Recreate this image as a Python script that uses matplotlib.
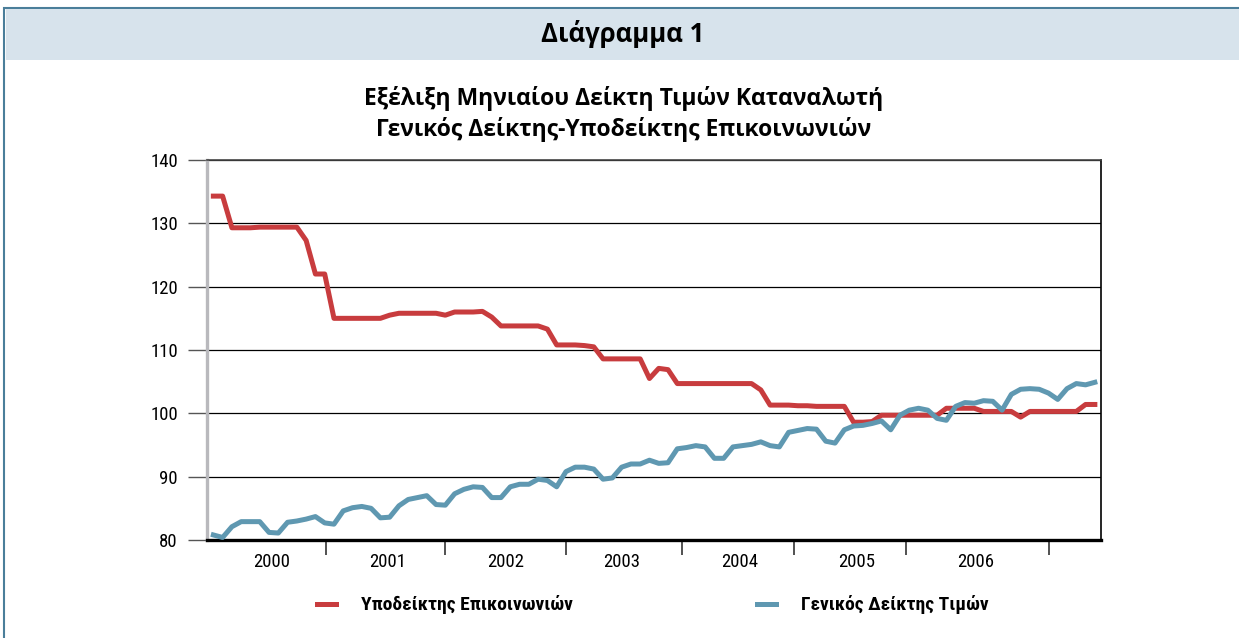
import numpy as np
import matplotlib
matplotlib.use("Agg")
import matplotlib.pyplot as plt
from matplotlib.patches import Rectangle

# monthly index values, Jan 2000 .. Dec 2007
comm_index = [134.3, 134.3, 129.3, 129.3, 129.3, 129.4, 129.4, 129.4, 129.4, 129.4, 127.3, 122.0,
              122.0, 115.0, 115.0, 115.0, 115.0, 115.0, 115.0, 115.5, 115.8, 115.8, 115.8, 115.8,
              115.8, 115.5, 116.0, 116.0, 116.0, 116.1, 115.2, 113.8, 113.8, 113.8, 113.8, 113.8,
              113.3, 110.8, 110.8, 110.8, 110.7, 110.5, 108.6, 108.6, 108.6, 108.6, 108.6, 105.5,
              107.1, 106.9, 104.7, 104.7, 104.7, 104.7, 104.7, 104.7, 104.7, 104.7, 104.7, 103.7,
              101.3, 101.3, 101.3, 101.2, 101.2, 101.1, 101.1, 101.1, 101.1, 98.6, 98.6, 98.7,
              99.7, 99.7, 99.7, 99.7, 99.7, 99.7, 99.7, 100.8, 100.8, 100.8, 100.8, 100.3,
              100.3, 100.3, 100.3, 99.4, 100.3, 100.3, 100.3, 100.3, 100.3, 100.3, 101.4, 101.4]

cpi_general = [80.8, 80.4, 82.1, 82.9, 82.9, 82.9, 81.2, 81.1, 82.8, 83.0, 83.3, 83.7,
               82.7, 82.5, 84.6, 85.1, 85.3, 85.0, 83.5, 83.6, 85.4, 86.4, 86.7, 87.0,
               85.6, 85.5, 87.3, 88.0, 88.4, 88.3, 86.7, 86.7, 88.4, 88.8, 88.8, 89.6,
               89.4, 88.4, 90.8, 91.5, 91.5, 91.2, 89.6, 89.8, 91.5, 92.0, 92.0, 92.6,
               92.1, 92.2, 94.4, 94.6, 94.9, 94.7, 92.9, 92.9, 94.7, 94.9, 95.1, 95.5,
               94.9, 94.7, 97.0, 97.3, 97.6, 97.5, 95.6, 95.3, 97.4, 98.0, 98.1, 98.4,
               98.8, 97.4, 99.7, 100.5, 100.8, 100.5, 99.2, 98.9, 101.1, 101.7, 101.6, 102.0,
               101.9, 100.5, 103.0, 103.8, 103.9, 103.8, 103.2, 102.2, 103.9, 104.7, 104.5, 104.9]

year_labels = ['2000', '2001', '2002', '2003', '2004', '2005', '2006']
# the original axis labels/ticks sit at these (irregular) month positions
year_label_pos = [6.3, 18.8, 31.5, 44.0, 56.7, 69.3, 82.1]
year_tick_pos = [12.1, 25.0, 38.0, 50.5, 62.6, 74.6, 90.05]

label_comm = 'Υποδείκτης Επικοινωνιών'
label_cpi = 'Γενικός Δείκτης Τιμών'

red = '#c83c3e'
blue = '#5f98b1'
narrow = ['Roboto Condensed', 'DejaVu Sans']
title_font = ['Open Sans', 'DejaVu Sans']

fig = plt.figure(figsize=(12.39, 6.38), dpi=100)

# outer frame and header band
fig.add_artist(Rectangle((0.0035, -0.05), 1.05, 1.037, transform=fig.transFigure,
                         facecolor='none', edgecolor='#4a7e9a', lw=1.5))
fig.add_artist(Rectangle((0.0045, 0.906), 1.0, 0.0805, transform=fig.transFigure,
                         facecolor='#d7e3ec', edgecolor='none'))
fig.text(0.5025, 0.946, 'Διάγραμμα 1', ha='center', va='center', fontsize=18.5,
         fontweight='bold', family=title_font)
fig.text(0.5036, 0.846, 'Εξέλιξη Μηνιαίου Δείκτη Τιμών Καταναλωτή', ha='center', va='center',
         fontsize=16.5, fontweight='bold', family=title_font)
fig.text(0.5036, 0.797, 'Γενικός Δείκτης-Υποδείκτης Επικοινωνιών', ha='center', va='center',
         fontsize=16.5, fontweight='bold', family=title_font)

ax = fig.add_axes([0.1671, 0.1536, 0.7215, 0.5956])
x = np.arange(len(cpi_general))
ax.plot(x, comm_index, color=red, lw=3.6, label=label_comm, zorder=3)
ax.plot(x, cpi_general, color=blue, lw=3.6, label=label_cpi, zorder=3)

ax.set_xlim(-0.68, 95.66)
ax.set_ylim(80, 140)
ax.set_yticks(range(80, 141, 10))
ax.yaxis.grid(True, color='black', lw=0.9)
ax.set_axisbelow(True)

ax.set_xticks(year_tick_pos)
ax.set_xticklabels([])
ax.set_xticks(year_label_pos, minor=True)
ax.set_xticklabels(year_labels, minor=True, family=narrow, fontsize=13.5)
ax.tick_params(axis='x', which='major', length=11, width=1.2, color='#333333', direction='out')
ax.tick_params(axis='x', which='minor', length=0, pad=9)
ax.tick_params(axis='y', length=13.5, width=1.0, color='#555555', pad=7.5)
for lab in ax.get_yticklabels():
    lab.set_family(narrow)
    lab.set_fontsize(13.5)

ax.spines['left'].set_color('#b9b9bd')
ax.spines['left'].set_linewidth(2.4)
ax.spines['bottom'].set_color('black')
ax.spines['bottom'].set_linewidth(2.4)
ax.spines['right'].set_color('black')
ax.spines['right'].set_linewidth(1.2)
ax.spines['top'].set_color('#444444')
ax.spines['top'].set_linewidth(1.2)

fig.legend(loc='center', bbox_to_anchor=(0.527, 0.052), ncol=2, frameon=False,
           handlelength=0.95, handletextpad=1.3, columnspacing=9.5,
           prop={'family': narrow, 'weight': 'bold', 'size': 14})

fig.savefig('out.png', dpi=100)
